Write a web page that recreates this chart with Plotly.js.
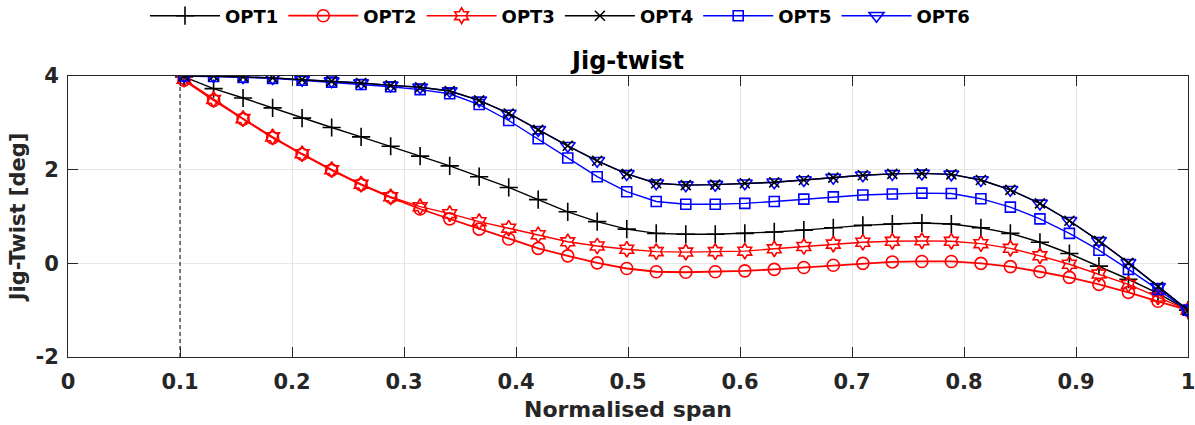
<!DOCTYPE html>
<html>
<head>
<meta charset="utf-8">
<script src="https://cdn.plot.ly/plotly-3.0.1.min.js"></script>
<style>html,body{margin:0;padding:0;background:#fff;}#chart{width:1195px;height:425px;}</style>
</head>
<body>
<div id="chart"></div>
<script>
// Normalised span stations
var span = [0.1036, 0.1300, 0.1563, 0.1827, 0.2090, 0.2354, 0.2617, 0.2881, 0.3144, 0.3408,
            0.3671, 0.3935, 0.4198, 0.4462, 0.4725, 0.4989, 0.5252, 0.5516, 0.5779, 0.6043,
            0.6306, 0.6570, 0.6833, 0.7097, 0.7360, 0.7624, 0.7887, 0.8151, 0.8414, 0.8678,
            0.8941, 0.9205, 0.9468, 0.9732, 1.0000];

var opt1 = [3.98, 3.73, 3.53, 3.32, 3.10, 2.90, 2.70, 2.50, 2.29, 2.08,
            1.85, 1.62, 1.36, 1.10, 0.89, 0.73, 0.64, 0.62, 0.62, 0.64,
            0.67, 0.71, 0.76, 0.81, 0.84, 0.86, 0.84, 0.76, 0.64, 0.45,
            0.21, -0.06, -0.34, -0.64, -1.00];
var opt2 = [3.91, 3.48, 3.08, 2.68, 2.33, 1.99, 1.68, 1.41, 1.16, 0.95,
            0.73, 0.52, 0.32, 0.16, 0.01, -0.11, -0.18, -0.19, -0.18, -0.16,
            -0.13, -0.09, -0.04, 0.00, 0.03, 0.04, 0.04, 0.00, -0.07, -0.18,
            -0.30, -0.45, -0.62, -0.81, -1.00];
var opt3 = [3.93, 3.50, 3.09, 2.70, 2.34, 2.00, 1.69, 1.42, 1.21, 1.06,
            0.89, 0.75, 0.61, 0.46, 0.37, 0.30, 0.25, 0.24, 0.25, 0.26,
            0.31, 0.36, 0.41, 0.45, 0.47, 0.48, 0.47, 0.42, 0.32, 0.16,
            -0.02, -0.23, -0.45, -0.72, -1.00];
var opt4 = [4.00, 4.00, 3.98, 3.96, 3.92, 3.89, 3.85, 3.80, 3.76, 3.68,
            3.48, 3.20, 2.85, 2.51, 2.19, 1.91, 1.71, 1.67, 1.68, 1.71,
            1.73, 1.78, 1.83, 1.88, 1.91, 1.92, 1.90, 1.78, 1.57, 1.28,
            0.91, 0.48, 0.01, -0.50, -1.00];
var opt5 = [4.00, 3.99, 3.97, 3.95, 3.91, 3.87, 3.82, 3.77, 3.71, 3.62,
            3.39, 3.05, 2.66, 2.25, 1.85, 1.53, 1.32, 1.26, 1.26, 1.28,
            1.32, 1.37, 1.42, 1.46, 1.48, 1.50, 1.49, 1.38, 1.20, 0.95,
            0.64, 0.28, -0.13, -0.56, -1.00];
var opt6 = [4.00, 4.00, 3.98, 3.96, 3.92, 3.89, 3.85, 3.80, 3.76, 3.68,
            3.48, 3.20, 2.85, 2.51, 2.19, 1.91, 1.71, 1.67, 1.68, 1.71,
            1.73, 1.78, 1.83, 1.88, 1.91, 1.92, 1.90, 1.78, 1.57, 1.28,
            0.91, 0.48, 0.01, -0.50, -1.00];

var seriesNames = ['OPT1', 'OPT2', 'OPT3', 'OPT4', 'OPT5', 'OPT6'];
var rootLine = [0.1, 0.1];
var rootLineY = [-2, 4];
var xTicks = [0, 0.1, 0.2, 0.3, 0.4, 0.5, 0.6, 0.7, 0.8, 0.9, 1];
var xTickText = ['0', '0.1', '0.2', '0.3', '0.4', '0.5', '0.6', '0.7', '0.8', '0.9', '1'];
var yTicks = [-2, 0, 2, 4];
var yTickText = ['-2', '0', '2', '4'];

function tr(name, y, color, symbol, size, width, rank) {
  return {
    x: span, y: y, name: name, type: 'scatter', mode: 'lines+markers',
    line: {color: color, width: width},
    marker: {symbol: symbol, size: size, color: color, line: {color: color, width: 1.6}},
    legendrank: rank
  };
}

var data = [
  {x: rootLine, y: rootLineY, type: 'scatter', mode: 'lines', showlegend: false,
   line: {color: '#000', width: 1, dash: '4px,3px'}, hoverinfo: 'skip'},
  tr(seriesNames[0], opt1, '#000000', 'cross-thin-open', 13, 1.4, 1),
  tr(seriesNames[1], opt2, '#ff0000', 'circle-open', 12, 1.8, 2),
  tr(seriesNames[2], opt3, '#ff0000', 'hexagram-open', 12, 1.4, 3),
  tr(seriesNames[4], opt5, '#0000ff', 'square-open', 10, 1.4, 5),
  tr(seriesNames[5], opt6, '#0000ff', 'triangle-down-open', 13, 1.4, 6),
  tr(seriesNames[3], opt4, '#000000', 'x-thin-open', 10, 1.4, 4)
];

var fam = 'DejaVu Sans, Liberation Sans, Arial, sans-serif';

var layout = {
  width: 1195, height: 425,
  margin: {l: 68, r: 7, t: 76, b: 68},
  paper_bgcolor: '#fff', plot_bgcolor: '#fff',
  font: {family: fam, color: '#262626', size: 20, weight: 'bold'},
  title: {text: 'Jig-twist', font: {family: fam, size: 24, weight: 'bold', color: '#000'},
          x: 0.5, xref: 'paper', xanchor: 'center', y: 1 - 61 / 425, yanchor: 'middle', yref: 'container'},
  showlegend: true,
  legend: {orientation: 'h', x: 560 / 1195, xref: 'container', xanchor: 'center',
           y: 1 - 16 / 425, yref: 'container', yanchor: 'middle',
           font: {family: fam, size: 18, weight: 'bold', color: '#000'},
           bgcolor: 'rgba(0,0,0,0)', itemwidth: 70, tracegroupgap: 0},
  xaxis: {
    range: [0, 1], tickmode: 'array', tickvals: xTicks, ticktext: xTickText,
    showgrid: true, gridcolor: '#e6e6e6', zeroline: false,
    showline: true, linecolor: '#262626', linewidth: 1, mirror: 'ticks',
    ticks: 'inside', ticklen: 10, tickcolor: '#262626', tickwidth: 1,
    ticklabelstandoff: 6, ticklabeloverflow: 'allow',
    tickfont: {family: fam, size: 21, weight: 'bold', color: '#262626'},
    title: {text: 'Normalised span', font: {family: fam, size: 22, weight: 'bold', color: '#262626'}, standoff: 8}
  },
  yaxis: {
    range: [-2, 4], tickmode: 'array', tickvals: yTicks, ticktext: yTickText,
    showgrid: true, gridcolor: '#e6e6e6', zeroline: false,
    showline: true, linecolor: '#262626', linewidth: 1, mirror: 'ticks',
    ticks: 'inside', ticklen: 10, tickcolor: '#262626', tickwidth: 1,
    ticklabelstandoff: 4,
    tickfont: {family: fam, size: 21, weight: 'bold', color: '#262626'},
    title: {text: 'Jig-Twist [deg]', font: {family: fam, size: 21, weight: 'bold', color: '#262626'}, standoff: 4}
  }
};

Plotly.newPlot('chart', data, layout, {displayModeBar: false, staticPlot: true});
</script>
</body>
</html>
